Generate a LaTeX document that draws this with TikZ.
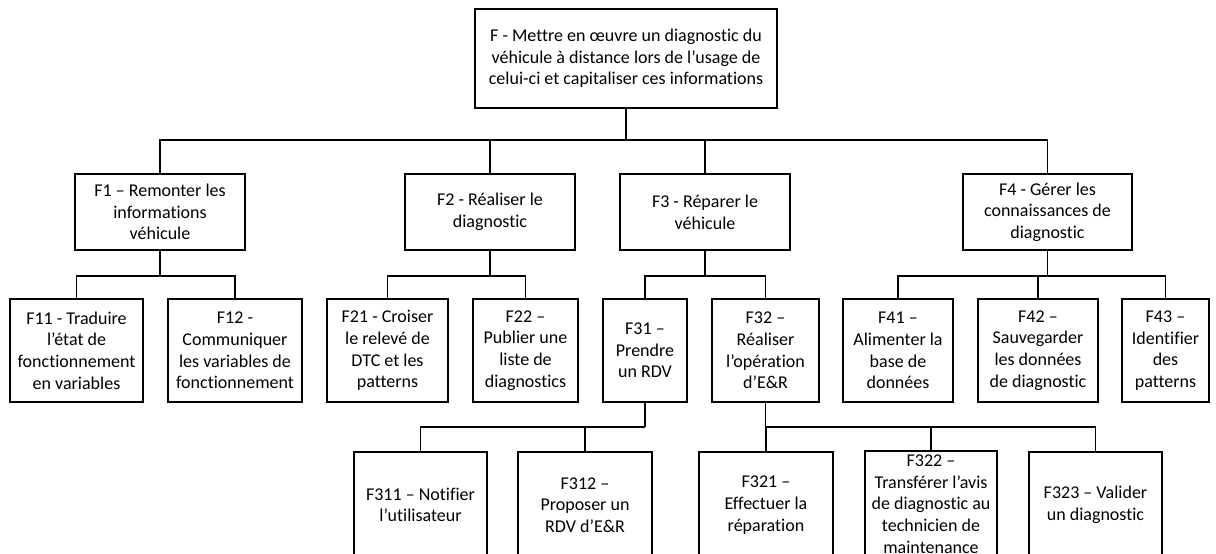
\documentclass[tikz,border=0pt]{standalone}
\usepackage{fontspec}
\setmainfont{Carlito}[Ligatures=NoCommon]
\begin{document}
\begin{tikzpicture}[x=1pt,y=-1pt,
  box/.style={draw=black,line width=1.6pt,fill=white,align=center,inner sep=1pt,
    font=\fontsize{18}{21.7}\selectfont},
  lev1/.style={box,minimum height=76pt},
  lev2/.style={box,minimum height=103pt},
  lev3/.style={box,minimum height=106pt},
  conn/.style={line width=1.6pt}]
\useasboundingbox (0,0) rectangle (1216,554);
\clip (0,0) rectangle (1216,554);
% root
\node[box,minimum width=302pt,minimum height=99pt] (F) at (626,58.5)
  {F - Mettre en œuvre un diagnostic du\\véhicule à distance lors de l’usage de\\celui-ci et capitaliser ces informations};
% level 1
\node[lev1,minimum width=170pt] (F1) at (160,212) {F1 – Remonter les\\informations\\véhicule};
\node[lev1,minimum width=170pt] (F2) at (490,212) {F2 - Réaliser le\\diagnostic};
\node[lev1,minimum width=170pt] (F3) at (705,212) {F3 - Réparer le\\véhicule};
\node[lev1,minimum width=169pt] (F4) at (1047.5,212) {F4 - Gérer les\\connaissances de\\diagnostic};
% level 2
\node[lev2,minimum width=133pt] (F11) at (76.5,350.5) {F11 - Traduire\\l’état de\\fonctionnement\\en variables};
\node[lev2,minimum width=134pt] (F12) at (235,350.5) {F12 -\\Communiquer\\les variables de\\fonctionnement};
\node[lev2,minimum width=121pt] (F21) at (387.5,350.5) {F21 -  Croiser\\le relevé de\\DTC et les\\patterns};
\node[lev2,minimum width=105pt] (F22) at (525.5,350.5) {F22 –\\Publier une\\liste de\\diagnostics};
\node[lev2,minimum width=84pt] (F31) at (645,350.5) {F31 –\\Prendre\\un RDV};
\node[lev2,minimum width=107pt] (F32) at (765.5,350.5) {F32 –\\Réaliser\\l’opération\\d’E\&R};
\node[lev2,minimum width=110pt] (F41) at (898,350.5) {F41 –\\Alimenter la\\base de\\données};
\node[lev2,minimum width=120pt] (F42) at (1038,350.5) {F42 –\\Sauvegarder\\les données\\de diagnostic};
\node[lev2,minimum width=87pt] (F43) at (1165.5,350.5) {F43 –\\Identifier\\des\\patterns};
% level 3
\node[lev3,minimum width=133pt] (F311) at (420.5,505) {F311 – Notifier\\l’utilisateur};
\node[lev3,minimum width=134pt] (F312) at (585,505) {F312 –\\Proposer un\\RDV d’E\&R};
\node[lev3,minimum width=134pt] (F321) at (766,505) {F321 –\\Effectuer la\\réparation};
\node[lev3,minimum width=132pt] (F322) at (931,504) {F322 –\\Transférer  l’avis\\de diagnostic au\\technicien de\\maintenance};
\node[lev3,minimum width=133pt] (F323) at (1095.5,505) {F323 – Valider\\un diagnostic};
% bus coordinates
\coordinate (b0) at (626,140);
\coordinate (b1) at (160,276);
\coordinate (b2) at (490,276);
\coordinate (b3) at (705,276);
\coordinate (b4) at (1047.5,276);
\coordinate (b31) at (645,427);
\coordinate (b32) at (765.5,427);
% connectors
\draw[conn] (F.south) -- (b0);
\draw[conn] (F1.north) |- (b0) -| (F4.north);
\draw[conn] (F2.north) |- (b0);
\draw[conn] (F3.north) |- (b0);
\draw[conn] (F1.south) -- (b1);
\draw[conn] (F11.north) |- (b1) -| (F12.north);
\draw[conn] (F2.south) -- (b2);
\draw[conn] (F21.north) |- (b2) -| (F22.north);
\draw[conn] (F3.south) -- (b3);
\draw[conn] (F31.north) |- (b3) -| (F32.north);
\draw[conn] (F4.south) -- (b4);
\draw[conn] (F41.north) |- (b4) -| (F43.north);
\draw[conn] (F42.north) |- (b4);
\draw[conn] (F31.south) -- (b31);
\draw[conn] (F311.north) |- (b31);
\draw[conn] (F312.north) |- (b31);
\draw[conn] (F32.south) -- (b32);
\draw[conn] (F321.north) |- (b32) -| (F323.north);
\draw[conn] (F322.north) |- (b32);
\end{tikzpicture}
\end{document}
